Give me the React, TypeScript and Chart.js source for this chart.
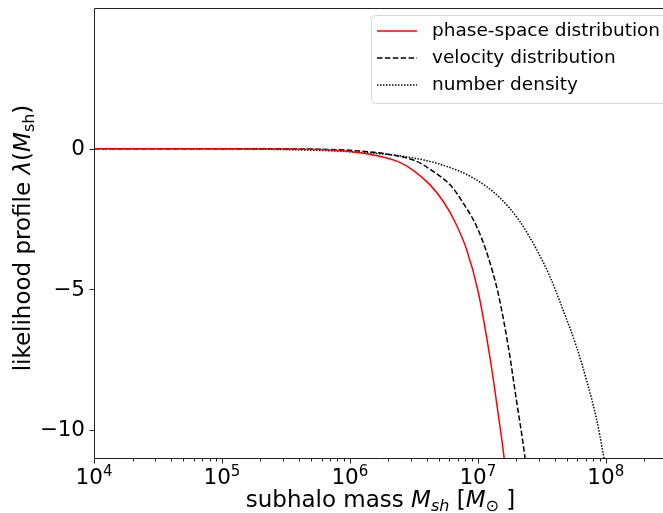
import React, { useEffect, useRef } from "react";
import { Chart, registerables } from "chart.js";

Chart.register(...registerables);

// ---- data ----
const phaseMass = [1e4, 1e5, 3.16e5, 1e6, 1.71e6, 2.46e6, 3.13e6, 4.22e6, 5.36e6, 6.61e6, 8.17e6, 1.005e7, 1.24e7, 1.44e7, 1.6e7, 1.7e7];
const phaseLambda = [0, -0.002, -0.013, -0.1, -0.27, -0.49, -0.77, -1.28, -1.87, -2.59, -3.59, -5.08, -7.39, -9.41, -10.95, -12.2];

const velocityMass = [1e4, 1e5, 3.16e5, 1e6, 2.05e6, 3.31e6, 4.48e6, 6.22e6, 7.67e6, 9.77e6, 1.2e7, 1.44e7, 1.73e7, 2.0e7, 2.33e7, 2.51e7];
const velocityLambda = [0, -0.001, -0.009, -0.06, -0.21, -0.45, -0.81, -1.34, -1.93, -2.76, -3.83, -5.14, -7.04, -8.93, -10.95, -12.3];

const densityMass = [1e4, 1e5, 3.16e5, 1e6, 3.13e6, 5.69e6, 9.18e6, 1.49e7, 2.13e7, 2.88e7, 3.65e7, 4.63e7, 5.9e7, 7.06e7, 8.45e7, 9.53e7, 1.02e8];
const densityLambda = [-0.001, -0.011, -0.035, -0.11, -0.33, -0.63, -1.04, -1.75, -2.59, -3.59, -4.54, -5.73, -7.04, -8.22, -9.6, -10.83, -11.6];

const seriesLabels = ["phase-space distribution", "velocity distribution", "number density"];
const xMajorExponents = [4, 5, 6, 7, 8];
const yTickValues = [0, -5, -10];
const yTickLabels = ["0", "\u22125", "\u221210"];

const X_MIN = 1e4;
const X_MAX = 2.8e8;
const Y_MIN = -11;
const Y_MAX = 5;

const FAM = '"DejaVu Sans", sans-serif';

type Seg = { text: string; size: number; italic?: boolean; dy?: number };

function drawRich(ctx: CanvasRenderingContext2D, segs: Seg[], x: number, y: number, align: "left" | "center") {
  let total = 0;
  const widths = segs.map((s) => {
    ctx.font = `${s.italic ? "italic " : ""}${s.size}px ${FAM}`;
    const w = ctx.measureText(s.text).width;
    total += w;
    return w;
  });
  let cx = align === "center" ? x - total / 2 : x;
  segs.forEach((s, i) => {
    ctx.font = `${s.italic ? "italic " : ""}${s.size}px ${FAM}`;
    ctx.fillText(s.text, cx, y + (s.dy || 0));
    cx += widths[i];
  });
}

const decorPlugin = {
  id: "decor",
  afterDatasetsDraw(chart: any) {
    const ctx: CanvasRenderingContext2D = chart.ctx;
    const area = chart.chartArea;
    const xs = chart.scales.x;
    const ys = chart.scales.y;
    ctx.save();
    // frame
    ctx.strokeStyle = "#222";
    ctx.lineWidth = 1;
    ctx.beginPath();
    ctx.rect(Math.round(area.left) + 0.5, Math.round(area.top) + 0.5, area.right - area.left + 5, area.bottom - area.top);
    ctx.stroke();

    const bottom = Math.round(area.bottom) + 0.5;
    const left = Math.round(area.left) + 0.5;
    // x ticks
    ctx.beginPath();
    for (let e = 4; e <= 8; e++) {
      for (let k = 1; k <= 9; k++) {
        const v = k * Math.pow(10, e);
        if (v < X_MIN || v > X_MAX) continue;
        const px = Math.round(xs.getPixelForValue(v)) + 0.5;
        const len = k === 1 ? 5 : 3;
        ctx.moveTo(px, bottom);
        ctx.lineTo(px, bottom + len);
      }
    }
    // y ticks
    yTickValues.forEach((v) => {
      const py = Math.round(ys.getPixelForValue(v)) + 0.5;
      ctx.moveTo(left, py);
      ctx.lineTo(left - 5, py);
    });
    ctx.stroke();

    ctx.fillStyle = "#000";
    // x tick labels
    ctx.textBaseline = "alphabetic";
    ctx.textAlign = "left";
    xMajorExponents.forEach((e) => {
      const px = xs.getPixelForValue(Math.pow(10, e));
      drawRich(ctx, [
        { text: "10", size: 21.5 },
        { text: String(e), size: 15, dy: -8 },
      ], px, 484, "center");
    });
    // y tick labels
    ctx.textAlign = "right";
    ctx.textBaseline = "middle";
    ctx.font = `21.5px ${FAM}`;
    yTickValues.forEach((v, i) => {
      const py = ys.getPixelForValue(v);
      ctx.fillText(yTickLabels[i], 85, py + 1);
    });

    // x axis title
    ctx.textAlign = "left";
    ctx.textBaseline = "alphabetic";
    const cxTitle = (area.left + area.right) / 2 + 2;
    drawRich(ctx, [
      { text: "subhalo mass ", size: 23 },
      { text: "M", size: 23, italic: true },
      { text: "sh", size: 16, italic: true, dy: 4 },
      { text: " [", size: 23 },
      { text: "M", size: 23, italic: true },
      { text: "\u2299", size: 16, dy: 4 },
      { text: " ]", size: 23 },
    ], cxTitle, 507, "center");

    // y axis title
    ctx.save();
    ctx.translate(30, (area.top + area.bottom) / 2 + 5);
    ctx.rotate(-Math.PI / 2);
    drawRich(ctx, [
      { text: "likelihood profile ", size: 23 },
      { text: "\u03bb", size: 23, italic: true },
      { text: "(", size: 23 },
      { text: "M", size: 23, italic: true },
      { text: "sh", size: 16, dy: 4 },
      { text: ")", size: 23 },
    ], 0, 0, "center");
    ctx.restore();

    // legend
    const lx = 371.5, ly = 15.5;
    ctx.beginPath();
    (ctx as any).roundRect(lx, ly, 320, 88, 4);
    ctx.fillStyle = "rgba(255,255,255,0.8)";
    ctx.fill();
    ctx.strokeStyle = "#d6d6d6";
    ctx.lineWidth = 1;
    ctx.stroke();
    const styles = [
      { color: "#ff0000", dash: [] as number[] },
      { color: "#000000", dash: [5.5, 2.4] },
      { color: "#000000", dash: [1.5, 1.5] },
    ];
    const rowY = [31, 58, 85];
    seriesLabels.forEach((lab, i) => {
      ctx.beginPath();
      ctx.setLineDash(styles[i].dash);
      ctx.strokeStyle = styles[i].color;
      ctx.lineWidth = 1.5;
      ctx.moveTo(377, rowY[i]);
      ctx.lineTo(417, rowY[i]);
      ctx.stroke();
      ctx.setLineDash([]);
      ctx.fillStyle = "#000";
      ctx.font = `18.5px ${FAM}`;
      ctx.textAlign = "left";
      ctx.textBaseline = "middle";
      ctx.fillText(lab, 432, rowY[i]);
    });
    ctx.restore();
  },
};

function toPoints(xs: number[], ys: number[]) {
  return xs.map((x, i) => ({ x, y: ys[i] }));
}

export default function App() {
  const ref = useRef<HTMLCanvasElement | null>(null);
  useEffect(() => {
    document.body.style.margin = "0";
    const canvas = ref.current;
    if (!canvas) return;
    const chart = new Chart(canvas, {
      type: "line",
      data: {
        datasets: [
          {
            label: seriesLabels[0],
            data: toPoints(phaseMass, phaseLambda),
            borderColor: "#ff0000",
            borderWidth: 1.5,
            pointRadius: 0,
            cubicInterpolationMode: "monotone",
            fill: false,
          },
          {
            label: seriesLabels[1],
            data: toPoints(velocityMass, velocityLambda),
            borderColor: "#000000",
            borderWidth: 1.5,
            borderDash: [5.5, 2.4],
            pointRadius: 0,
            cubicInterpolationMode: "monotone",
            fill: false,
          },
          {
            label: seriesLabels[2],
            data: toPoints(densityMass, densityLambda),
            borderColor: "#000000",
            borderWidth: 1.5,
            borderDash: [1.5, 1.5],
            pointRadius: 0,
            cubicInterpolationMode: "monotone",
            fill: false,
          },
        ],
      } as any,
      options: {
        animation: false,
        responsive: false,
        devicePixelRatio: 1,
        layout: { padding: { left: 94, top: 8, right: 0, bottom: 55 } },
        scales: {
          x: { type: "logarithmic", min: X_MIN, max: X_MAX, display: false },
          y: { type: "linear", min: Y_MIN, max: Y_MAX, display: false },
        },
        plugins: { legend: { display: false }, tooltip: { enabled: false } },
      } as any,
      plugins: [decorPlugin],
    });
    return () => chart.destroy();
  }, []);
  return (
    <div style={{ width: 663, height: 513 }}>
      <canvas ref={ref} width={663} height={513} style={{ width: 663, height: 513, display: "block" }} />
    </div>
  );
}
